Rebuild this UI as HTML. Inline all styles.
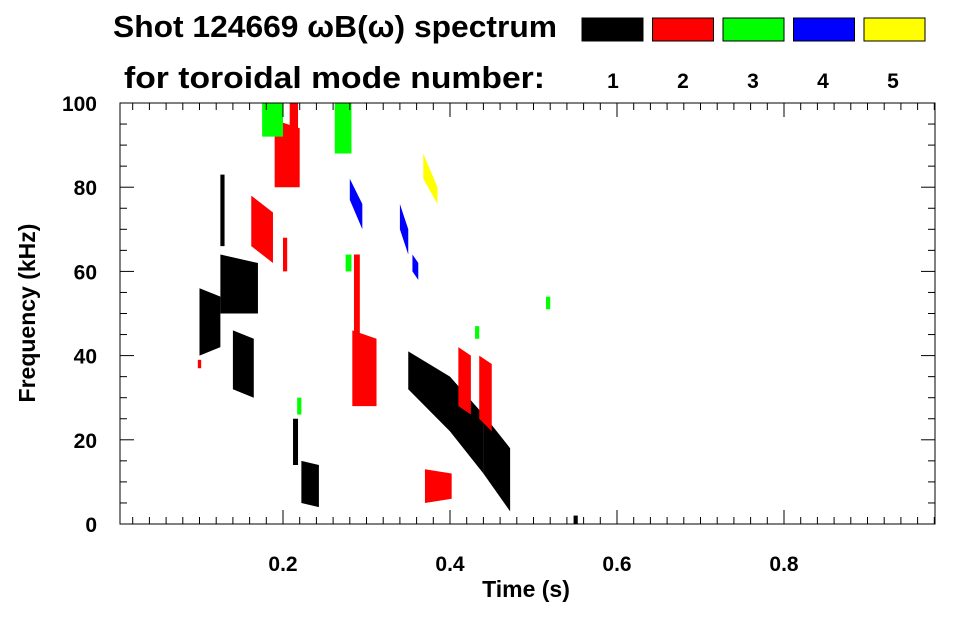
<!DOCTYPE html>
<html><head><meta charset="utf-8"><style>
body{margin:0;background:#fff;width:963px;height:615px;overflow:hidden;font-family:"Liberation Sans",sans-serif}
</style></head><body>
<svg id="chart" width="963" height="615" xmlns="http://www.w3.org/2000/svg" font-family="Liberation Sans, sans-serif" font-weight="bold">
<text x="113" y="37" font-size="31" textLength="444" lengthAdjust="spacingAndGlyphs">Shot 124669 ωB(ω) spectrum</text>
<text x="124" y="88" font-size="31" textLength="421" lengthAdjust="spacingAndGlyphs">for toroidal mode number:</text>
<g id="legend"></g>
<g id="marks"></g>
<rect x="120" y="103" width="815" height="421" fill="none" stroke="#000" stroke-width="1"/>
<g id="axes"></g>
<text x="526" y="597" font-size="23" text-anchor="middle">Time (s)</text>
<text transform="translate(35,313) rotate(-90)" font-size="23" text-anchor="middle">Frequency (kHz)</text>
</svg>
<script>
const modeColors=["#000000","#ff0000","#00ff00","#0000ff","#ffff00"];
const modeLabels=["1","2","3","4","5"];
const xTicks=[0.2,0.4,0.6,0.8];
const yTicks=[0,20,40,60,80,100];
// blobs: time start/end, freq low/high at start, freq low/high at end, mode index
const blobT0=[0.100,0.125,0.140,0.125,0.212,0.222,0.350,0.400,0.440,0.548, 0.162,0.190,0.208,0.283,0.285,0.370,0.410,0.435,0.098,0.200, 0.262,0.275,0.217,0.175,0.430,0.515, 0.280,0.340,0.355, 0.368];
const blobT1=[0.125,0.170,0.165,0.130,0.218,0.243,0.400,0.440,0.472,0.553, 0.188,0.220,0.218,0.312,0.292,0.402,0.425,0.450,0.102,0.205, 0.282,0.282,0.222,0.200,0.435,0.520, 0.295,0.350,0.362, 0.368+0.017];
const blobLo0=[40,50,32,66,14,5,32,22,12,0, 66,80,90,28,45,5,28,25,37,60, 88,60,26,92,44,51, 77,70,60, 82];
const blobHi0=[56,64,46,83,25,15,41,35,26,2, 78,96,100,46,64,13,42,40,39,68, 100,64,30,100,47,54, 82,76,64, 88];
const blobLo1=[42,50,30,66,14,4,22,12,3,0, 62,80,90,28,45,6,26,22,37,60, 88,60,26,92,44,51, 70,64,58, 76];
const blobHi1=[54,62,44,83,25,14,35,26,18,2, 74,94,100,44,64,12,40,38,39,68, 100,64,30,100,47,54, 76,70,62, 80];
const blobMode=[0,0,0,0,0,0,0,0,0,0, 1,1,1,1,1,1,1,1,1,1, 2,2,2,2,2,2, 3,3,3, 4];
const X=t=>116+t*835, Y=f=>524-f*4.21;
const NS="http://www.w3.org/2000/svg";
const marks=document.getElementById('marks');
for(let i=0;i<blobT0.length;i++){
  const p=document.createElementNS(NS,'polygon');
  p.setAttribute('points',[[X(blobT0[i]),Y(blobLo0[i])],[X(blobT0[i]),Y(blobHi0[i])],[X(blobT1[i]),Y(blobHi1[i])],[X(blobT1[i]),Y(blobLo1[i])]].map(a=>a.join(',')).join(' '));
  p.setAttribute('fill',modeColors[blobMode[i]]);
  
  
  marks.appendChild(p);
}
const leg=document.getElementById('legend');
modeColors.forEach((c,i)=>{
  const r=document.createElementNS(NS,'rect');
  r.setAttribute('x',582+i*70.5);r.setAttribute('y',18);r.setAttribute('width',61);r.setAttribute('height',23);
  r.setAttribute('fill',c);r.setAttribute('stroke','#000');
  
  
  leg.appendChild(r);
  const t=document.createElementNS(NS,'text');
  t.setAttribute('x',613+i*70);t.setAttribute('y',88);t.setAttribute('font-size',21);t.setAttribute('text-anchor','middle');
  t.textContent=modeLabels[i];
  
  
  leg.appendChild(t);
});
const ax=document.getElementById('axes');
function line(x1,y1,x2,y2){const l=document.createElementNS(NS,'line');l.setAttribute('x1',x1);l.setAttribute('y1',y1);l.setAttribute('x2',x2);l.setAttribute('y2',y2);l.setAttribute('stroke','#000');


ax.appendChild(l);}
for(let k=1;k<=49;k++){const t=k*0.02;const x=X(t);if(x<120||x>935)continue;const major=k%10==0;const L=major?14:7;line(x,524,x,524-L);line(x,103,x,103+L);}
for(let f=0;f<=100;f+=5){const y=Y(f);const L=f%20==0?14:7;line(120,y,120+L,y);line(935,y,935-L,y);}
xTicks.forEach(t=>{const e=document.createElementNS(NS,'text');e.setAttribute('x',X(t));e.setAttribute('y',571);e.setAttribute('font-size',21);e.setAttribute('text-anchor','middle');e.textContent=t.toFixed(1);


ax.appendChild(e);});
yTicks.forEach(f=>{const e=document.createElementNS(NS,'text');e.setAttribute('x',97);e.setAttribute('y',Y(f)+8);e.setAttribute('font-size',21);e.setAttribute('text-anchor','end');e.textContent=f;


ax.appendChild(e);});
</script>
</body></html>
